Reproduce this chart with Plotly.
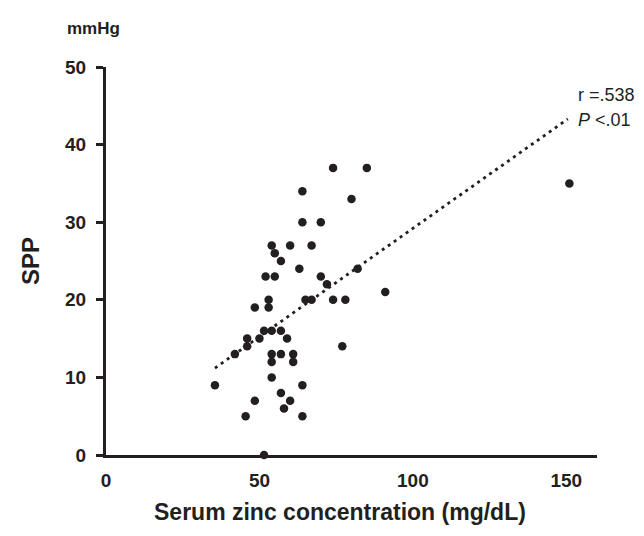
import plotly.graph_objects as go

# Serum zinc concentration (mg/dL) vs SPP (mmHg)
zinc = [74, 85, 64, 80, 64, 70, 54, 60, 67, 55, 57, 63, 82, 52, 55, 70, 72,
        53, 65, 67, 74, 78, 48.5, 53, 51.5, 54, 57, 46, 50, 59, 46, 42, 54, 57, 61,
        54, 61, 77, 54, 35.5, 64, 57, 48.5, 60, 58, 45.5, 64, 51.5, 91, 151]
spp = [37, 37, 34, 33, 30, 30, 27, 27, 27, 26, 25, 24, 24, 23, 23, 23, 22,
       20, 20, 20, 20, 20, 19, 19, 16, 16, 16, 15, 15, 15, 14, 13, 13, 13, 13,
       12, 12, 14, 10, 9, 9, 8, 7, 7, 6, 5, 5, 0, 21, 35]

# Regression line endpoints
trend_x = [35.5, 150.5]
trend_y = [11.2, 43.3]

x_ticks = [0, 50, 100, 150]
y_ticks = [0, 10, 20, 30, 40, 50]

ink = "#231f20"
font = "Liberation Sans, Arial, sans-serif"

fig = go.Figure()
fig.add_trace(go.Scatter(x=trend_x, y=trend_y, mode="lines",
                         line=dict(color=ink, width=2.8, dash="3px,4.3px"),
                         hoverinfo="skip", showlegend=False))
fig.add_trace(go.Scatter(x=zinc, y=spp, mode="markers",
                         marker=dict(color=ink, size=8.5),
                         cliponaxis=False, showlegend=False))

fig.update_layout(
    width=636, height=528,
    margin=dict(l=98, r=47, t=59, b=81),
    plot_bgcolor="white", paper_bgcolor="white",
    font=dict(family=font, color=ink),
)
fig.update_xaxes(range=[0, 160], tickvals=x_ticks,
                 ticktext=[f"<b>{v}</b>" for v in x_ticks], ticks="",
                 showgrid=False, zeroline=False, showline=True, linewidth=3,
                 linecolor=ink, tickfont=dict(size=19), ticklabelstandoff=6)
fig.update_yaxes(range=[0, 50], tickvals=y_ticks,
                 ticktext=[f"<b>{v}</b>" for v in y_ticks],
                 ticks="outside", ticklen=7, tickwidth=3, tickcolor=ink,
                 showgrid=False, zeroline=False, showline=True, linewidth=3,
                 linecolor=ink, tickfont=dict(size=19), ticklabelstandoff=6,
                 title=dict(text="<b>SPP</b>", font=dict(size=24), standoff=19))

fig.add_annotation(x=0.4766, y=-0.147, xref="paper", yref="paper",
                   text="<b>Serum zinc concentration (mg/dL)</b>",
                   showarrow=False, font=dict(size=23),
                   xanchor="center", yanchor="middle")
fig.add_annotation(x=0.0326, y=1.1005, xref="paper", yref="paper",
                   text="<b>mmHg</b>", showarrow=False, font=dict(size=17),
                   xanchor="right", yanchor="middle")
fig.add_annotation(x=153.2, y=46.4, xref="x", yref="y", text="r =.538",
                   showarrow=False, font=dict(size=18), xanchor="left",
                   yanchor="middle")
fig.add_annotation(x=153.2, y=43.2, xref="x", yref="y", text="<i>P</i> <.01",
                   showarrow=False, font=dict(size=18), xanchor="left",
                   yanchor="middle")

fig.write_html("out.html")
